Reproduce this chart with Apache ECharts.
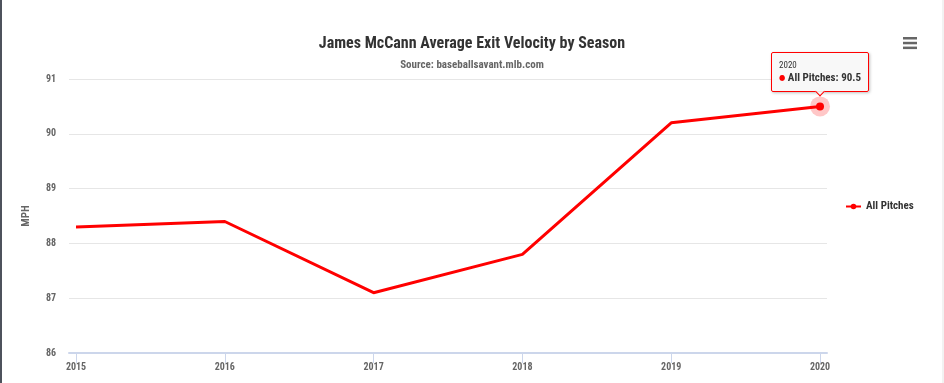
<!DOCTYPE html>
<html>
<head>
<meta charset="utf-8">
<script src="https://cdn.jsdelivr.net/npm/echarts@6/dist/echarts.min.js"></script>
<style>
html,body{margin:0;padding:0;background:#fff;}
#wrap{position:relative;width:944px;height:383px;overflow:hidden;}
#chart{width:944px;height:383px;}
#lb{position:absolute;left:0;top:0;width:2px;height:383px;background:#4d525c;}
#rb{position:absolute;right:0;top:0;width:2px;height:383px;background:#f2f2f2;}
</style>
</head>
<body>
<div id="wrap"><div id="chart"></div><div id="lb"></div><div id="rb"></div></div>
<script>
const titleText = "James McCann Average Exit Velocity by Season";
const subtitleText = "Source: baseballsavant.mlb.com";
const seasons = [2015, 2016, 2017, 2018, 2019, 2020];
const allPitches = [88.3, 88.4, 87.1, 87.8, 90.2, 90.5];
const yTicks = [86, 87, 88, 89, 90, 91];
const seriesName = "All Pitches";
const yAxisName = "MPH";

const FONT = '"Roboto Condensed","Liberation Sans Narrow","DejaVu Sans Condensed",Roboto,sans-serif';
const lastIdx = allPitches.length - 1;

const seriesData = seasons.map((s, i) => {
  const item = { value: [s, allPitches[i]] };
  if (i !== lastIdx) item.symbol = 'none';
  return item;
});

const chart = echarts.init(document.getElementById('chart'), null, { renderer: 'canvas' });
chart.setOption({
  animation: false,
  textStyle: { fontFamily: FONT },
  title: [
    { text: titleText, left: 'center', top: 31,
      textStyle: { fontFamily: FONT, fontSize: 16, fontWeight: 'bold', color: '#333333' } },
    { text: subtitleText, left: 'center', top: 55,
      textStyle: { fontFamily: FONT, fontSize: 11, fontWeight: 'bold', color: '#666666' } }
  ],
  legend: {
    orient: 'vertical', left: 840, top: 196,
    itemWidth: 15, itemHeight: 7, itemGap: 6,
    data: [seriesName],
    textStyle: { fontFamily: FONT, fontSize: 11, fontWeight: 'bold', color: '#333333' }
  },
  tooltip: {
    trigger: 'item',
    position: 'top',
    alwaysShowContent: true,
    triggerOn: 'none',
    backgroundColor: 'rgba(247,247,247,0.9)',
    borderColor: '#ff0000',
    borderWidth: 1,
    padding: [6, 7, 5, 7],
    extraCssText: 'box-shadow:1px 1px 3px rgba(0,0,0,0.25);border-radius:2px;',
    formatter: function (p) {
      return '<div style="font-family:' + FONT.replace(/"/g, "'") + ';line-height:1.35">' +
        '<div style="font-size:9px;color:#333">' + p.value[0] + '</div>' +
        '<div style="font-size:11px;color:#333"><span style="color:#ff0000;font-size:8px;vertical-align:1px">\u25CF</span> <b>' +
        p.seriesName + ': ' + p.value[1] + '</b></div></div>';
    }
  },
  grid: { left: 69, right: 117, top: 79, bottom: 30, containLabel: false },
  xAxis: {
    type: 'value',
    min: seasons[0] - 0.047,
    max: seasons[lastIdx] + 0.047,
    axisLine: { show: true, lineStyle: { color: '#ccd6eb', width: 2 } },
    axisTick: { show: true, customValues: seasons, length: 10, lineStyle: { color: '#ccd6eb' } },
    axisLabel: { customValues: seasons, margin: 9, fontFamily: FONT, fontSize: 10, fontWeight: 'bold', color: '#666666',
      formatter: v => String(v) },
    splitLine: { show: false }
  },
  yAxis: {
    type: 'value',
    min: yTicks[0], max: yTicks[yTicks.length - 1], interval: 1,
    name: yAxisName, nameLocation: 'middle', nameGap: 37, nameRotate: 90,
    nameTextStyle: { fontFamily: FONT, fontSize: 11, fontWeight: 'bold', color: '#666666' },
    axisLine: { show: false }, axisTick: { show: false },
    axisLabel: { margin: 13, fontFamily: FONT, fontSize: 10, fontWeight: 'bold', color: '#666666' },
    splitLine: { lineStyle: { color: '#e6e6e6', width: 1 } }
  },
  series: [{
    name: seriesName,
    type: 'line',
    data: seriesData,
    symbol: 'circle',
    symbolSize: 8,
    showSymbol: true,
    color: '#ff0000',
    lineStyle: { color: '#ff0000', width: 3 },
    itemStyle: { color: '#ff0000' },
    emphasis: { scale: false, disabled: true },
    markPoint: {
      z: 1,
      silent: true,
      symbol: 'circle',
      symbolSize: 20,
      itemStyle: { color: 'rgba(255,0,0,0.22)' },
      label: { show: false },
      data: [{ coord: [seasons[lastIdx], allPitches[lastIdx]] }]
    }
  }],
  graphic: [{
    type: 'group', left: 903, top: 37,
    children: [
      { type: 'rect', shape: { x: 0, y: 0, width: 14, height: 2.5 }, style: { fill: '#666666' } },
      { type: 'rect', shape: { x: 0, y: 4.8, width: 14, height: 2.5 }, style: { fill: '#666666' } },
      { type: 'rect', shape: { x: 0, y: 9.6, width: 14, height: 2.5 }, style: { fill: '#666666' } }
    ]
  }]
});
chart.dispatchAction({ type: 'showTip', seriesIndex: 0, dataIndex: lastIdx });
</script>
</body>
</html>
